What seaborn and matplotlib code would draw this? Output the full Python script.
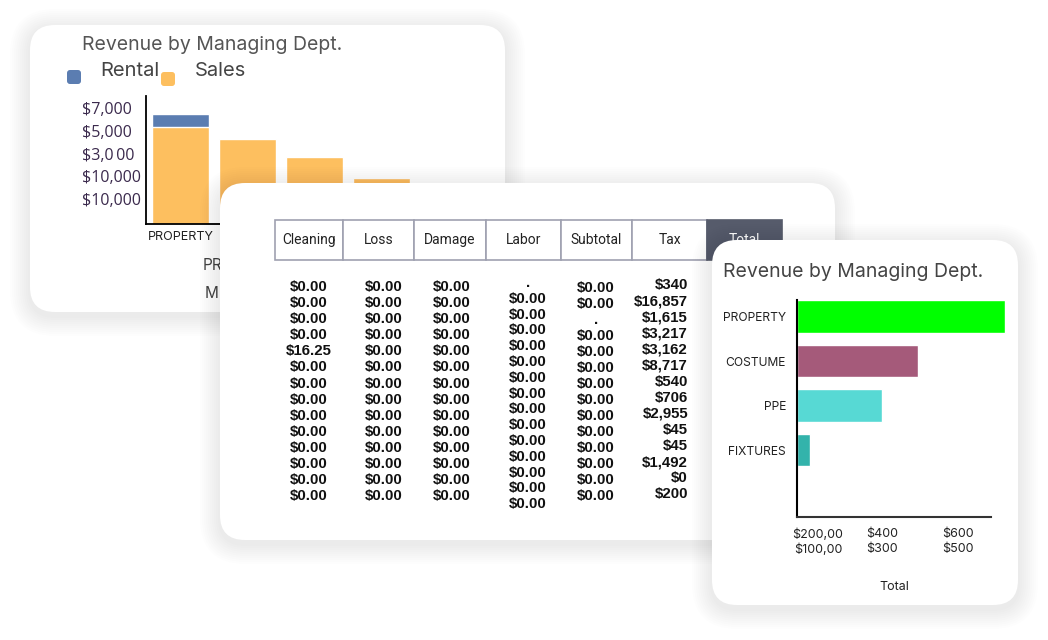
import matplotlib
matplotlib.use("Agg")
import matplotlib.pyplot as plt
from matplotlib.patches import FancyBboxPatch, Rectangle
import seaborn as sns
import numpy as np
import pandas as pd

# ---- data ----
depts = ["PROPERTY", "COSTUME", "PPE", "FIXTURES"]
sales = [5820, 5100, 4020, 2760]
rental = [780, 0, 0, 0]
y_tick_pos = [6960, 5580, 4200, 2880, 1500]
y_tick_lbl = ["$7,000", "$5,000", "$3,0\u200900", "$10,000", "$10,000"]
x1_tick_lbl = ["PROPERTY", "", "", ""]   # the rest sit under the table card

totals = [697, 405, 285, 44]
bar_colors = ["#00ff00", "#a55a7a", "#57d9d4", "#33b3ab"]
x_tick_pos = [70, 285, 539]
x_tick_lbl = ["$200,00\n$100,00", "$400\n$300", "$600\n$500"]

headers = ["Cleaning", "Loss", "Damage", "Labor", "Subtotal", "Tax", "Total"]
cleaning = ["$0.00"] * 4 + ["$16.25"] + ["$0.00"] * 9
loss = ["$0.00"] * 14
damage = ["$0.00"] * 14
labor = ["."] + ["$0.00"] * 14
subtotal = ["$0.00", "$0.00", "."] + ["$0.00"] * 11
tax = ["$340", "$16,857", "$1,615", "$3,217", "$3,162", "$8,717", "$540",
       "$706", "$2,955", "$45", "$45", "$1,492", "$0", "$200"]

sns.set_theme(style="white")
plt.rcParams["font.family"] = ["Inter", "DejaVu Sans"]

W, H = 1048, 640
fig = plt.figure(figsize=(W / 100, H / 100), dpi=100)
fig.patch.set_facecolor("white")


def rect(x0, y0, x1, y1):
    return [x0 / W, 1 - y1 / H, (x1 - x0) / W, (y1 - y0) / H]


def layer(z):
    a = fig.add_axes([0, 0, 1, 1], zorder=z)
    a.set_xlim(0, W)
    a.set_ylim(H, 0)
    a.axis("off")
    a.patch.set_alpha(0)
    return a


def card(a, x0, y0, x1, y1, r=25):
    for i in range(10):
        p = 2 + i * 2
        a.add_patch(FancyBboxPatch((x0 - p, y0 - p + 4), x1 - x0 + 2 * p, y1 - y0 + 2 * p,
                                   boxstyle=f"round,pad=0,rounding_size={r + p}",
                                   fc="black", ec="none", alpha=0.009, clip_on=False))
    a.add_patch(FancyBboxPatch((x0, y0), x1 - x0, y1 - y0,
                               boxstyle=f"round,pad=0,rounding_size={r}",
                               fc="white", ec="none", clip_on=False))


# ---- card 1 : stacked column chart ----
L1 = layer(1)
card(L1, 30, 25, 505, 312)
L1.text(82, 45, "Revenue by Managing Dept.", fontsize=14, color="#555555", va="center")
L1.add_patch(FancyBboxPatch((67, 70), 14, 14, boxstyle="round,pad=0,rounding_size=3",
                            fc="#5b7db1", ec="none"))
L1.add_patch(FancyBboxPatch((161, 72), 14, 14, boxstyle="round,pad=0,rounding_size=3",
                            fc="#fdbf5f", ec="none"))
L1.text(100, 71, "Rental", fontsize=14.5, color="#444444", va="center")
L1.text(195, 71, "Sales", fontsize=14.5, color="#444444", va="center")
L1.text(203, 265, "PR", fontsize=11, color="#444444", va="center")
L1.text(205, 294, "M", fontsize=11, color="#444444", va="center")

ax1 = fig.add_axes(rect(146, 96, 482, 224), zorder=2)
df1 = pd.DataFrame({"dept": depts, "sales": sales,
                    "total": np.array(sales) + np.array(rental)})
sns.barplot(data=df1, x="dept", y="total", color="#5b7db1", saturation=1, width=0.85, ax=ax1)
sns.barplot(data=df1, x="dept", y="sales", color="#fdbf5f", saturation=1, width=0.85, ax=ax1)
ax1.set_xlim(-0.515, 4.5)
ax1.set_ylim(0, 7680)
ax1.set_xticks(range(len(depts)))
ax1.set_xticklabels(x1_tick_lbl)
ax1.set_yticks(y_tick_pos)
ax1.set_yticklabels(y_tick_lbl, fontsize=11.5, color="#3b2a4d",
                    family=["Open Sans", "DejaVu Sans"], ha="left")
ax1.set_xlabel("")
ax1.set_ylabel("")
ax1.tick_params(axis="both", length=0)
ax1.tick_params(axis="x", labelsize=9, labelcolor="#222222", pad=5)
ax1.tick_params(axis="y", pad=46)
ax1.patch.set_alpha(0)
for s in ["top", "right"]:
    ax1.spines[s].set_visible(False)
for s in ["left", "bottom"]:
    ax1.spines[s].set_color("black")
    ax1.spines[s].set_linewidth(1.3)

# ---- card 2 : table ----
L2 = layer(3)
card(L2, 220, 183, 835, 540)
edges = [275, 343, 414, 486, 561, 632, 707, 782]
for i, h in enumerate(headers):
    x0, x1 = edges[i], edges[i + 1]
    last = h == "Total"
    L2.add_patch(Rectangle((x0, 220), x1 - x0, 40, fc="#565b6b" if last else "white",
                           ec="#565b6b" if last else "#9fa1b0", lw=1.2))
    L2.text((x0 + x1) / 2, 240, h, ha="center", va="center", fontsize=10,
            color="white" if last else "#222222", family=["Roboto", "DejaVu Sans"])

cols = [(309, cleaning, 287, 16.1, "center"),
        (384, loss, 287, 16.1, "center"),
        (452, damage, 287, 16.1, "center"),
        (528, labor, 283, 15.8, "center"),
        (596, subtotal, 288, 16.0, "center"),
        (688, tax, 285, 16.1, "right")]
for cx, vals, y0, dy, ha in cols:
    for j, v in enumerate(vals):
        L2.text(cx, y0 + j * dy, v, ha=ha, va="center", fontsize=10.8, fontweight="bold",
                color="#111111", family=["Liberation Sans", "DejaVu Sans"])

# ---- card 3 : horizontal bar chart ----
L3 = layer(5)
card(L3, 712, 240, 1018, 605)
L3.text(723, 272, "Revenue by Managing Dept.", fontsize=14, color="#444444", va="center")
L3.text(894, 587, "Total", fontsize=9, color="#222222", ha="center", va="center")

ax3 = fig.add_axes(rect(797, 300, 991, 517), zorder=6)
df3 = pd.DataFrame({"dept": depts, "total": totals})
sns.barplot(data=df3, y="dept", x="total", hue="dept", palette=bar_colors, orient="h",
            saturation=1, width=0.73, legend=False, ax=ax3)
for p in ax3.patches:
    p.set_clip_on(False)
ax3.set_ylim(4.5, -0.37)
ax3.set_xlim(0, 650)
ax3.set_xticks(x_tick_pos)
ax3.set_xticklabels(x_tick_lbl, fontsize=9, color="#222222", linespacing=1.35)
ax3.set_xlabel("")
ax3.set_ylabel("")
ax3.tick_params(axis="both", length=0)
ax3.tick_params(axis="y", labelsize=8.7, labelcolor="#222222", pad=8)
ax3.tick_params(axis="x", pad=8)
ax3.patch.set_alpha(0)
for s in ["top", "right"]:
    ax3.spines[s].set_visible(False)
ax3.spines["left"].set_color("black")
ax3.spines["left"].set_linewidth(1.5)
ax3.spines["bottom"].set_color("#333333")
ax3.spines["bottom"].set_linewidth(1.5)

fig.savefig("out.png", dpi=100, facecolor="white")
